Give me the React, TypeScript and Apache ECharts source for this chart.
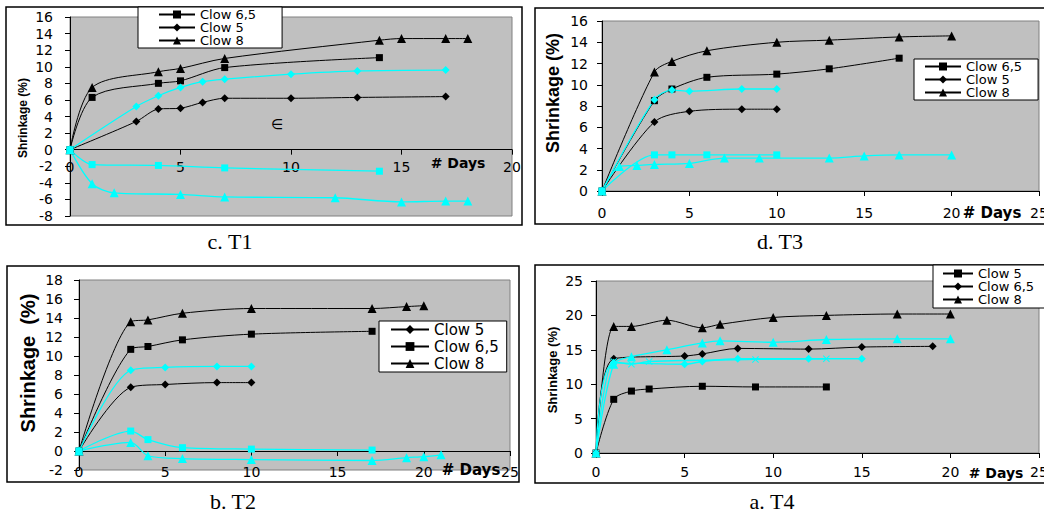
import React, { useEffect, useRef } from 'react';
import * as echarts from 'echarts';

// ---------- Panel c. T1 ----------
const t1DaysC65 = [0, 1, 4, 5, 7, 14];
const t1ValC65 = [0, 6.3, 8.0, 8.3, 9.9, 11.1];
const t1DaysC5 = [0, 3, 4, 5, 6, 7, 10, 13, 17];
const t1ValC5 = [0, 3.4, 4.9, 5.0, 5.7, 6.2, 6.2, 6.3, 6.4];
const t1DaysC8 = [0, 1, 4, 5, 7, 14, 15, 17, 18];
const t1ValC8 = [0, 7.5, 9.4, 9.8, 11.0, 13.2, 13.4, 13.4, 13.4];
const t1DaysCyD = [0, 3, 4, 5, 6, 7, 10, 13, 17];
const t1ValCyD = [0, 5.2, 6.5, 7.5, 8.2, 8.5, 9.1, 9.5, 9.6];
const t1DaysCyS = [0, 1, 4, 7, 14];
const t1ValCyS = [0, -1.8, -1.9, -2.2, -2.6];
const t1DaysCyT = [0, 1, 2, 5, 7, 12, 15, 17, 18];
const t1ValCyT = [0, -4.1, -5.2, -5.4, -5.7, -5.8, -6.3, -6.2, -6.2];

// ---------- Panel d. T3 ----------
const t3DaysC8 = [0, 3, 4, 6, 10, 13, 17, 20];
const t3ValC8 = [0, 11.2, 12.2, 13.2, 14.0, 14.2, 14.5, 14.6];
const t3DaysC65 = [0, 3, 4, 6, 10, 13, 17];
const t3ValC65 = [0, 8.5, 9.6, 10.7, 11.0, 11.5, 12.5];
const t3DaysC5 = [0, 3, 5, 8, 10];
const t3ValC5 = [0, 6.5, 7.5, 7.7, 7.7];
const t3DaysCyD = [0, 3, 4, 5, 8, 10];
const t3ValCyD = [0, 8.6, 9.5, 9.4, 9.6, 9.6];
const t3DaysCyS = [0, 3, 4, 6, 10];
const t3ValCyS = [0, 3.4, 3.4, 3.4, 3.4];
const t3DaysCyT = [0, 1, 2, 3, 5, 7, 9, 13, 15, 17, 20];
const t3ValCyT = [0, 2.3, 2.4, 2.5, 2.6, 3.1, 3.1, 3.1, 3.3, 3.4, 3.4];

// ---------- Panel b. T2 ----------
const t2DaysC8 = [0, 3, 4, 6, 10, 17, 19, 20];
const t2ValC8 = [0, 13.6, 13.8, 14.5, 15.0, 15.0, 15.2, 15.3];
const t2DaysC65 = [0, 3, 4, 6, 10, 17];
const t2ValC65 = [0, 10.7, 11.0, 11.7, 12.3, 12.6];
const t2DaysC5 = [0, 3, 5, 8, 10];
const t2ValC5 = [0, 6.7, 7.0, 7.2, 7.2];
const t2DaysCyD = [0, 3, 5, 8, 10];
const t2ValCyD = [0, 8.5, 8.8, 8.9, 8.9];
const t2DaysCyS = [0, 3, 4, 6, 10, 17];
const t2ValCyS = [0, 2.1, 1.2, 0.35, 0.2, 0.1];
const t2DaysCyT = [0, 3, 4, 6, 10, 17, 19, 20, 21];
const t2ValCyT = [0, 0.9, -0.5, -0.8, -0.9, -1.0, -0.7, -0.6, -0.4];

// ---------- Panel a. T4 ----------
const t4DaysC8 = [0, 1, 2, 4, 6, 7, 10, 13, 17, 20];
const t4ValC8 = [0, 18.4, 18.4, 19.3, 18.2, 18.7, 19.7, 20.0, 20.2, 20.2];
const t4DaysC65 = [0, 1, 5, 6, 8, 12, 15, 19];
const t4ValC65 = [0, 13.7, 14.1, 14.4, 15.2, 15.1, 15.4, 15.5];
const t4DaysC5 = [0, 1, 2, 3, 6, 9, 13];
const t4ValC5 = [0, 7.8, 9.0, 9.3, 9.7, 9.6, 9.6];
const t4DaysCyT = [0, 1, 2, 4, 6, 7, 10, 13, 17, 20];
const t4ValCyT = [0, 12.9, 14.0, 15.0, 16.0, 16.3, 16.1, 16.5, 16.6, 16.6];
const t4DaysCyD = [0, 1, 5, 6, 8, 12, 15];
const t4ValCyD = [0, 13.1, 12.9, 13.3, 13.7, 13.7, 13.7];
const t4DaysCyX = [0, 1, 2, 3, 9, 13];
const t4ValCyX = [0, 13.3, 12.9, 13.3, 13.6, 13.7];

const legendT1 = ['Clow 6,5', 'Clow 5', 'Clow 8'];
const legendT3 = ['Clow 6,5', 'Clow 5', 'Clow 8'];
const legendT2 = ['Clow 5', 'Clow 6,5', 'Clow 8'];
const legendT4 = ['Clow 5', 'Clow 6,5', 'Clow 8'];
const captions = ['c. T1', 'd. T3', 'b. T2', 'a. T4'];
const yTitle = 'Shrinkage (%)';
const xTitle = '# Days';

const BLACK = '#000000';
const CYAN = '#00ffff';
const CROSS = 'path://M0,1L1,0L5,4L9,0L10,1L6,5L10,9L9,10L5,6L1,10L0,9L4,5Z';

const zip = (d: number[], v: number[]) => d.map((x, i) => [x, v[i]]);

function mk(name: string, gi: number, d: number[], v: number[], color: string, symbol: string, size: any, width = 1) {
  return {
    type: 'line',
    name,
    xAxisIndex: gi,
    yAxisIndex: gi,
    data: zip(d, v),
    smooth: 0.3,
    symbol,
    symbolSize: size,
    showSymbol: true,
    lineStyle: { color, width },
    itemStyle: { color, borderWidth: 0 },
    emphasis: { disabled: true },
    silent: true,
  };
}

const SQ = 7;
const DI = [8, 8];
const TR = 9;

const App: React.FC = () => {
  const ref = useRef<HTMLDivElement>(null);
  useEffect(() => {
    document.body.style.margin = '0';
    if (!ref.current) return;
    const chart = echarts.init(ref.current, undefined, { renderer: 'svg' });

    const gridBoxes = [
      { left: 70, top: 17, width: 442, height: 199 },
      { left: 602, top: 21, width: 437, height: 170 },
      { left: 79, top: 280, width: 431, height: 190 },
      { left: 596, top: 281, width: 443, height: 172 },
    ];
    const grids = gridBoxes.map((g) => ({
      ...g,
      show: true,
      backgroundColor: '#c0c0c0',
      borderColor: '#808080',
      borderWidth: 1,
      containLabel: false,
      outerBoundsMode: 'none',
    }));

    const xCfg = [
      { max: 20, margin: 10 },
      { max: 25, margin: 15 },
      { max: 25, margin: 14 },
      { max: 25, margin: 12 },
    ];
    const yCfg = [
      { min: -8, max: 16, interval: 2, margin: 17 },
      { min: 0, max: 16, interval: 2, margin: 14 },
      { min: -2, max: 18, interval: 2, margin: 16 },
      { min: 0, max: 25, interval: 5, margin: 13 },
    ];
    const labelFont = { fontFamily: 'DejaVu Sans', fontSize: 14, color: '#000' };

    const xAxis = xCfg.map((c, i) => {
      const y = yCfg[i];
      // place the x axis on the zero line of its value axis
      const off = -((0 - y.min) / (y.max - y.min)) * gridBoxes[i].height;
      return {
        gridIndex: i,
        type: 'value',
        position: 'bottom',
        offset: off,
        min: 0,
        max: c.max,
        interval: 5,
        axisLine: { show: true, onZero: false, lineStyle: { color: BLACK, width: 1 } },
        axisTick: { show: true, length: 5, lineStyle: { color: BLACK } },
        axisLabel: { ...labelFont, margin: c.margin, showMinLabel: true, showMaxLabel: true, hideOverlap: false },
        splitLine: { show: false },
      };
    });
    const yAxis = yCfg.map((c, i) => ({
      gridIndex: i,
      type: 'value',
      min: c.min,
      max: c.max,
      interval: c.interval,
      axisLine: { show: true, onZero: false, lineStyle: { color: BLACK, width: 1 } },
      axisTick: { show: true, length: 5, lineStyle: { color: BLACK } },
      axisLabel: { ...labelFont, margin: c.margin, showMinLabel: true, showMaxLabel: true, hideOverlap: false },
      splitLine: { show: false },
    }));

    const series = [
      // T1
      mk('T1|Clow 6,5', 0, t1DaysC65, t1ValC65, BLACK, 'rect', SQ),
      mk('T1|Clow 5', 0, t1DaysC5, t1ValC5, BLACK, 'diamond', DI),
      mk('T1|Clow 8', 0, t1DaysC8, t1ValC8, BLACK, 'triangle', TR),
      mk('T1|cyD', 0, t1DaysCyD, t1ValCyD, CYAN, 'diamond', DI, 1.3),
      mk('T1|cyS', 0, t1DaysCyS, t1ValCyS, CYAN, 'rect', SQ, 1.3),
      mk('T1|cyT', 0, t1DaysCyT, t1ValCyT, CYAN, 'triangle', TR, 1.3),
      // T3
      mk('T3|Clow 6,5', 1, t3DaysC65, t3ValC65, BLACK, 'rect', SQ),
      mk('T3|Clow 5', 1, t3DaysC5, t3ValC5, BLACK, 'diamond', DI),
      mk('T3|Clow 8', 1, t3DaysC8, t3ValC8, BLACK, 'triangle', TR),
      mk('T3|cyD', 1, t3DaysCyD, t3ValCyD, CYAN, 'diamond', DI, 1.3),
      mk('T3|cyS', 1, t3DaysCyS, t3ValCyS, CYAN, 'rect', SQ, 1.3),
      mk('T3|cyT', 1, t3DaysCyT, t3ValCyT, CYAN, 'triangle', TR, 1.3),
      // T2
      mk('T2|Clow 5', 2, t2DaysC5, t2ValC5, BLACK, 'diamond', DI),
      mk('T2|Clow 6,5', 2, t2DaysC65, t2ValC65, BLACK, 'rect', SQ),
      mk('T2|Clow 8', 2, t2DaysC8, t2ValC8, BLACK, 'triangle', TR),
      mk('T2|cyD', 2, t2DaysCyD, t2ValCyD, CYAN, 'diamond', DI, 1.3),
      mk('T2|cyS', 2, t2DaysCyS, t2ValCyS, CYAN, 'rect', SQ, 1.3),
      mk('T2|cyT', 2, t2DaysCyT, t2ValCyT, CYAN, 'triangle', TR, 1.3),
      // T4
      mk('T4|Clow 5', 3, t4DaysC5, t4ValC5, BLACK, 'rect', SQ),
      mk('T4|Clow 6,5', 3, t4DaysC65, t4ValC65, BLACK, 'diamond', DI),
      mk('T4|Clow 8', 3, t4DaysC8, t4ValC8, BLACK, 'triangle', TR),
      mk('T4|cyT', 3, t4DaysCyT, t4ValCyT, CYAN, 'triangle', TR, 1.3),
      mk('T4|cyD', 3, t4DaysCyD, t4ValCyD, CYAN, 'diamond', DI, 1.3),
      mk('T4|cyX', 3, t4DaysCyX, t4ValCyX, CYAN, CROSS, 7, 1.3),
    ];

    const legendBase = {
      orient: 'vertical',
      formatter: (n: string) => n.split('|')[1],
      backgroundColor: '#ffffff',
      borderColor: BLACK,
      borderWidth: 1,
      borderRadius: 0,
      selectedMode: false,
      inactiveColor: '#000',
      itemGap: 0,
    };
    const legend = [
      { ...legendBase, left: 138, top: 7, padding: [1, 26, 1, 20], itemWidth: 36, itemHeight: 10,
        data: legendT1.map((n) => 'T1|' + n),
        textStyle: { fontFamily: 'DejaVu Sans', fontSize: 13, color: '#000' } },
      { ...legendBase, left: 914, top: 59, padding: [1, 16, 1, 10], itemWidth: 36, itemHeight: 10,
        data: legendT3.map((n) => 'T3|' + n),
        textStyle: { fontFamily: 'DejaVu Sans', fontSize: 13, color: '#000' } },
      { ...legendBase, left: 379, top: 321, padding: [1, 8, 1, 11], itemWidth: 38, itemHeight: 11, itemGap: 2,
        data: legendT2.map((n) => 'T2|' + n),
        textStyle: { fontFamily: 'DejaVu Sans', fontSize: 15, color: '#000' } },
      { ...legendBase, left: 933, top: 265, padding: [2, 16, 2, 9], itemWidth: 30, itemHeight: 10,
        data: legendT4.map((n) => 'T4|' + n),
        textStyle: { fontFamily: 'DejaVu Sans', fontSize: 13, color: '#000' } },
    ];

    const frame = (x: number, y: number, w: number, h: number) => ({
      type: 'rect', shape: { x, y, width: w, height: h }, silent: true, z: -10,
      style: { fill: 'none', stroke: BLACK, lineWidth: 1.5 },
    });
    const txt = (text: string, x: number, y: number, family: string, size: number, weight: string, rotation = 0) => ({
      type: 'text', x, y, rotation, silent: true,
      style: { text, fontFamily: family, fontSize: size, fontWeight: weight, fill: '#000', align: 'center', verticalAlign: 'middle' },
    });
    const SERIF = 'Liberation Serif';
    const SANS = 'Liberation Sans';
    const DJ = 'DejaVu Sans';
    const R = Math.PI / 2;

    const graphic = [
      frame(6, 7, 516, 218),
      frame(535, 8, 520, 216),
      frame(7, 266, 512, 216),
      frame(535, 265, 520, 218),
      txt(captions[0], 230, 241, SERIF, 22, 'normal'),
      txt(captions[1], 780, 241, SERIF, 22, 'normal'),
      txt(captions[2], 233, 501, SERIF, 22, 'normal'),
      txt(captions[3], 772, 501, SERIF, 22, 'normal'),
      txt(yTitle, 23, 118, SANS, 12, 'bold', R),
      txt(yTitle, 553, 93, SANS, 18, 'bold', R),
      txt('Shrinkage\u00a0\u00a0(%)', 28, 363, SANS, 20, 'bold', R),
      txt(yTitle, 552, 370, SANS, 13, 'bold', R),
      txt(xTitle, 458, 163, DJ, 14, 'bold'),
      txt(xTitle, 992, 213, DJ, 15, 'bold'),
      txt(xTitle, 471, 470, DJ, 15, 'bold'),
      txt(xTitle, 996, 473, DJ, 14, 'bold'),
      txt('∈', 277, 124, DJ, 14, 'normal'),
    ];

    chart.setOption({
      animation: false,
      backgroundColor: '#ffffff',
      grid: grids,
      xAxis,
      yAxis,
      legend,
      series,
      graphic,
    } as any);

    return () => chart.dispose();
  }, []);
  return <div ref={ref} style={{ width: 1044, height: 518 }} />;
};

export default App;
